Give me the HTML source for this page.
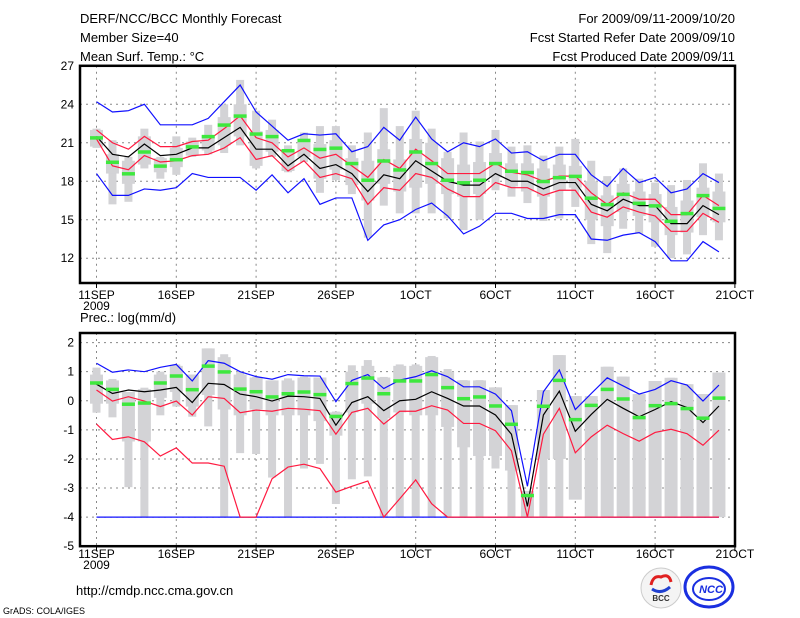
<!DOCTYPE html>
<html><head><meta charset="utf-8"><style>
html,body{margin:0;padding:0;background:#fff;}
svg{display:block;font-family:"Liberation Sans",sans-serif;}
.t{font-size:13px;fill:#000;}
.tk{font-size:12px;fill:#000;}
</style></head><body>
<svg id="chart" width="800" height="618" viewBox="0 0 800 618">
<rect x="0" y="0" width="800" height="618" fill="#fff"/>
<text class="t" x="80" y="23">DERF/NCC/BCC Monthly Forecast</text>
<text class="t" x="80" y="42">Member Size=40</text>
<text class="t" x="80" y="61">Mean Surf. Temp.: °C</text>
<text class="t" x="735" y="23" text-anchor="end">For 2009/09/11-2009/10/20</text>
<text class="t" x="735" y="42" text-anchor="end">Fcst Started Refer Date 2009/09/10</text>
<text class="t" x="735" y="61" text-anchor="end">Fcst Produced Date 2009/09/11</text>
<text class="t" x="80" y="322">Prec.: log(mm/d)</text>
<text class="t" x="76" y="595">http://cmdp.ncc.cma.gov.cn</text>
<text x="3" y="614" style="font-size:9px">GrADS: COLA/IGES</text>
<g>
<circle cx="661" cy="588" r="20" fill="#f4f4f4" stroke="#ccc"/>
<path d="M651 585 q2 -10 10 -8 q8 -4 10 5" fill="none" stroke="#e02020" stroke-width="3"/>
<path d="M652 589 q9 6 18 -2" fill="none" stroke="#2040d0" stroke-width="3"/>
<text x="661" y="601" text-anchor="middle" style="font-size:8px;font-weight:bold" fill="#333">BCC</text>
</g>
<g>
<ellipse cx="709" cy="587" rx="24" ry="20" fill="none" stroke="#1a2fe0" stroke-width="3"/>
<ellipse cx="709" cy="589" rx="16" ry="11" fill="none" stroke="#1a2fe0" stroke-width="2"/>
<text x="711" y="593" text-anchor="middle" style="font-size:11px;font-weight:bold;font-style:italic" fill="#1a2fe0">NCC</text>
</g>
<g id="top"></g>
<g id="bot"></g>
</svg>
<script>
// ---- Temperature panel data ----
const tBlueHi=[24.2,23.4,23.5,24.0,22.4,22.4,22.4,22.9,24.2,25.5,23.4,22.3,21.2,21.7,21.6,21.7,20.3,20.7,22.2,21.2,23.0,21.3,20.3,21.0,20.7,21.3,20.2,20.3,19.6,20.1,20.1,18.5,17.6,19.0,17.9,18.3,17.1,17.4,18.6,17.9];
const tRedHi=[22.0,21.0,20.5,21.5,20.7,20.7,21.1,21.2,22.1,23.1,21.4,21.0,19.9,20.6,19.8,20.1,19.2,18.3,19.7,19.0,20.5,19.6,18.6,18.6,18.6,19.4,18.7,18.5,18.0,18.4,18.4,17.1,16.2,17.1,16.6,16.6,15.4,15.4,16.9,16.1];
const tMean=[21.5,20.1,19.9,20.9,20.0,20.1,20.6,20.6,21.4,22.2,20.5,20.5,19.2,20.1,19.0,19.3,18.6,17.2,18.5,18.2,19.6,18.8,18.0,17.7,17.7,18.6,18.0,18.0,17.4,17.9,17.9,16.2,15.7,16.6,16.1,16.1,14.7,14.7,16.1,15.4];
const tRedLo=[21.3,19.2,18.9,20.0,19.5,19.6,20.0,20.1,20.6,21.4,19.7,20.0,18.8,19.6,18.3,18.6,18.2,16.2,17.5,17.3,18.6,18.3,17.4,16.8,16.8,17.9,17.5,17.5,16.9,17.3,17.3,15.6,15.2,16.0,15.6,15.3,14.1,14.1,15.5,14.8];
const tBlueLo=[18.6,16.9,16.9,17.4,17.3,17.5,18.6,18.3,18.3,18.3,17.3,18.5,17.1,18.2,16.2,16.7,16.7,13.4,14.6,15.0,15.8,16.3,15.3,13.9,14.5,15.5,15.5,15.1,15.1,15.4,15.4,13.5,13.4,13.8,14.0,13.3,11.8,11.8,13.3,12.5];
const tObs=[21.4,19.5,18.6,20.3,19.2,19.7,20.7,21.5,22.4,23.1,21.7,21.5,20.4,21.2,20.5,20.6,19.4,18.1,19.6,18.9,20.3,19.4,18.1,17.9,18.1,19.4,18.8,18.7,18.0,18.3,18.4,16.7,16.2,17.0,16.3,16.1,14.9,15.5,16.9,15.9];
const tMax=[22.1,21.2,19.9,22.1,19.9,21.5,21.4,22.4,24.0,25.9,23.5,22.8,20.8,21.8,22.3,22.3,20.8,21.8,23.7,22.3,23.5,22.1,20.3,21.8,21.1,22.0,20.7,20.8,20.0,20.7,21.3,19.6,18.4,19.0,18.2,17.9,17.7,18.1,19.4,18.6];
const tMin=[20.6,16.2,16.4,19.0,18.2,18.5,19.9,20.1,20.2,20.8,19.0,19.9,18.7,19.5,17.1,18.1,17.0,13.6,16.1,15.5,15.5,15.5,15.1,14.2,15.0,17.3,16.8,16.3,14.9,15.1,16.0,13.1,12.4,14.3,13.9,12.9,12.0,12.3,13.8,13.4];
const tBoxHi=[22.0,20.1,19.6,21.5,19.8,20.6,21.1,21.6,23.0,24.0,21.9,22.0,20.5,21.3,20.9,21.2,19.8,19.6,20.5,19.7,21.3,21.0,19.8,19.3,19.5,20.2,19.4,19.4,19.0,19.3,19.2,18.0,16.9,17.8,17.2,17.0,16.0,16.5,17.5,17.2];
const tBoxLo=[20.7,18.6,17.8,19.3,18.7,19.1,20.0,20.4,20.8,21.5,19.2,20.3,18.8,19.9,18.2,18.9,17.7,16.5,17.8,17.2,17.5,17.8,17.0,16.8,17.0,18.3,17.6,17.2,16.8,17.3,17.5,15.0,14.5,15.6,15.3,14.8,13.8,14.0,15.2,14.8];
const tTicks=[12,15,18,21,24,27];
// ---- Precipitation panel data ----
const pBlueHi=[1.29,0.98,1.06,1.0,1.15,1.25,0.68,1.38,1.29,1.0,0.83,0.74,0.9,0.86,0.85,-0.03,0.7,0.9,0.42,0.71,0.83,1.03,0.83,0.48,0.48,0.23,-0.34,-2.94,0.31,1.06,-0.3,0.25,0.79,0.51,0.23,0.39,0.69,0.54,-0.01,0.54];
const pRedHi=[0.37,-0.01,0.14,-0.01,-0.2,-0.01,-0.49,0.14,0.08,-0.41,-0.32,-0.36,-0.26,-0.29,-0.34,-1.15,-0.4,-0.26,-0.8,-0.36,-0.36,-0.17,-0.32,-0.78,-0.78,-1.03,-1.72,-4.0,-1.15,-0.26,-1.79,-1.24,-0.84,-1.13,-1.39,-1.09,-0.98,-1.13,-1.53,-1.01];
const pMean=[0.57,0.25,0.37,0.31,0.37,0.46,-0.06,0.6,0.56,0.23,0.14,-0.01,0.16,0.14,0.08,-0.84,-0.06,0.14,-0.34,0.0,0.05,0.31,0.08,-0.18,-0.18,-0.49,-1.15,-3.63,-0.49,0.33,-1.05,-0.47,0.05,-0.26,-0.55,-0.3,-0.03,-0.23,-0.75,-0.18];
const pRedLo=[-0.8,-1.33,-1.24,-1.41,-1.9,-1.62,-2.14,-2.14,-2.25,-4.0,-4.0,-2.68,-2.28,-2.18,-2.33,-3.14,-2.94,-2.76,-4.0,-3.37,-2.72,-3.54,-4,-4,-4,-4,-4,-4,-4,-4,-4,-4,-4,-4,-4,-4,-4,-4,-4,-4];
const pBlueLo=[-4,-4,-4,-4,-4,-4,-4,-4,-4,-4,-4,-4,-4,-4,-4,-4,-4,-4,-4,-4,-4,-4,-4,-4,-4,-4,-4,-4,-4,-4,-4,-4,-4,-4,-4,-4,-4,-4,-4,-4];
const pObs=[0.62,0.4,-0.11,-0.07,0.62,0.86,0.39,1.2,1.0,0.41,0.32,0.14,0.25,0.31,0.22,-0.53,0.6,0.79,0.25,0.69,0.69,0.91,0.46,0.08,0.14,-0.17,-0.8,-3.25,-0.18,0.71,-0.64,-0.15,0.4,0.07,-0.57,-0.16,-0.09,-0.26,-0.59,0.1];
const pMax=[1.14,0.75,0.3,0.45,1.0,1.25,0.9,1.8,1.6,1.0,0.82,0.7,0.77,0.83,0.8,-0.37,1.22,1.4,0.82,1.25,1.25,1.54,1.09,0.71,0.71,0.46,-0.15,-3.14,0.37,1.57,0.16,0.16,1.17,0.83,0.23,0.68,0.79,0.57,0.23,0.97];
const pMin=[-0.41,-0.57,-2.97,-4,-0.5,-0.2,-0.55,-0.88,-4,-1.8,-1.83,-2.64,-4,-2.33,-2.17,-3.55,-2.7,-2.6,-4,-4,-4,-4,-4,-4,-4,-2.33,-4,-4,-4,-4,-3.37,-4,-4,-4,-4,-4,-4,-4,-4,-4];
const pBoxHi=[0.9,0.7,0.3,0.4,0.9,1.2,0.9,1.8,1.5,0.9,0.8,0.7,0.7,0.8,0.8,-0.4,1.0,1.2,0.8,1.2,1.2,1.5,1.0,0.7,0.7,0.46,-0.15,-3.1,0.37,1.57,0.16,0.16,1.17,0.83,0.23,0.68,0.79,0.57,0.23,0.97];
const pBoxLo=[-0.1,-0.1,-1.4,-1.4,0.1,0.3,-0.2,0.2,-0.3,-0.5,-0.3,-0.5,-0.5,-0.5,-0.7,-1.2,-0.4,-0.1,-0.6,-0.4,-0.5,-0.5,-0.9,-1.6,-1.9,-1.9,-2.4,-4,-2.0,-2.0,-3.4,-4,-4,-4,-4,-4,-4,-4,-4,-4];
const pTicks=[-5,-4,-3,-2,-1,0,1,2];
const xLabels=["11SEP","16SEP","21SEP","26SEP","1OCT","6OCT","11OCT","16OCT","21OCT"];

const NS="http://www.w3.org/2000/svg";
const X0=80,X1=735;
function xs(d){return 96.5+d*15.96;}
function mk(parent,tag,attrs){const e=document.createElementNS(NS,tag);for(const k in attrs)e.setAttribute(k,attrs[k]);parent.appendChild(e);return e;}

function panel(g,top,bot,vTop,vBot,ticks,series,labY,prefix){
  const ys=v=>top+(vTop-v)/(vTop-vBot)*(bot-top);
  // grid
  ticks.forEach(t=>{const y=ys(t);
    if(y>top+2&&y<bot-2){const l=mk(g,'line',{x1:X0,x2:X1,y1:y,y2:y,stroke:'#888','stroke-dasharray':'2,4','stroke-width':1});
    
    }
    const tx=mk(g,'text',{x:X0-6,y:y+4,'text-anchor':'end',class:'tk'});tx.textContent=String(t);
    
    
  });
  xLabels.forEach((lab,i)=>{const x=xs(i*5);
    if(i<8){const l=mk(g,'line',{x1:x,x2:x,y1:top,y2:bot,stroke:'#888','stroke-dasharray':'2,4','stroke-width':1});
    
    }
    mk(g,'line',{x1:x,x2:x,y1:bot,y2:bot+5,stroke:'#000'});
    const tx=mk(g,'text',{x:x,y:labY,'text-anchor':'middle',class:'tk'});tx.textContent=lab;
    
    
  });
  const yr=mk(g,'text',{x:xs(0),y:labY+11,'text-anchor':'middle',class:'tk'});yr.textContent='2009';
  
  
  // bars
  series.max.forEach((mx,d)=>{const x=xs(d);
    const w=mk(g,'rect',{x:x-4,y:ys(mx),width:8,height:Math.max(0,ys(series.min[d])-ys(mx)),fill:'#d3d3d6'});
    
    
    const b=mk(g,'rect',{x:x-6.5,y:ys(series.bhi[d]),width:13,height:Math.max(0,ys(series.blo[d])-ys(series.bhi[d])),fill:'#d3d3d6'});
    
    
  });
  const line=(arr,col,name)=>{const p=mk(g,'polyline',{points:arr.map((v,d)=>xs(d)+','+ys(v)).join(' '),fill:'none',stroke:col,'stroke-width':1.2});
    
    };
  line(series.blo,'none',prefix+'-unused');
  line(series.bluLo,'#1010ff',prefix+'-min-line');
  line(series.bluHi,'#1010ff',prefix+'-max-line');
  line(series.redLo,'#ff1a40',prefix+'-lower-percentile-line');
  line(series.redHi,'#ff1a40',prefix+'-upper-percentile-line');
  line(series.mean,'#000',prefix+'-ensemble-mean-line');
  series.obs.forEach((v,d)=>{const r=mk(g,'rect',{x:xs(d)-6.5,y:ys(v)-1.5,width:13,height:3.5,fill:'#3ee83e'});
    
    });
  const f=mk(g,'rect',{x:X0,y:top,width:X1-X0,height:bot-top,fill:'none',stroke:'#000','stroke-width':2.5});
  
  
}
panel(document.getElementById('top'),65.8,283,27,10.07,tTicks,
 {max:tMax,min:tMin,bhi:tBoxHi,blo:tBoxLo,bluHi:tBlueHi,bluLo:tBlueLo,redHi:tRedHi,redLo:tRedLo,mean:tMean,obs:tObs},299,'temp');
panel(document.getElementById('bot'),333,546.2,2.33,-5,pTicks,
 {max:pMax,min:pMin,bhi:pBoxHi,blo:pBoxLo,bluHi:pBlueHi,bluLo:pBlueLo,redHi:pRedHi,redLo:pRedLo,mean:pMean,obs:pObs},558,'prec');
</script>
</body></html>
